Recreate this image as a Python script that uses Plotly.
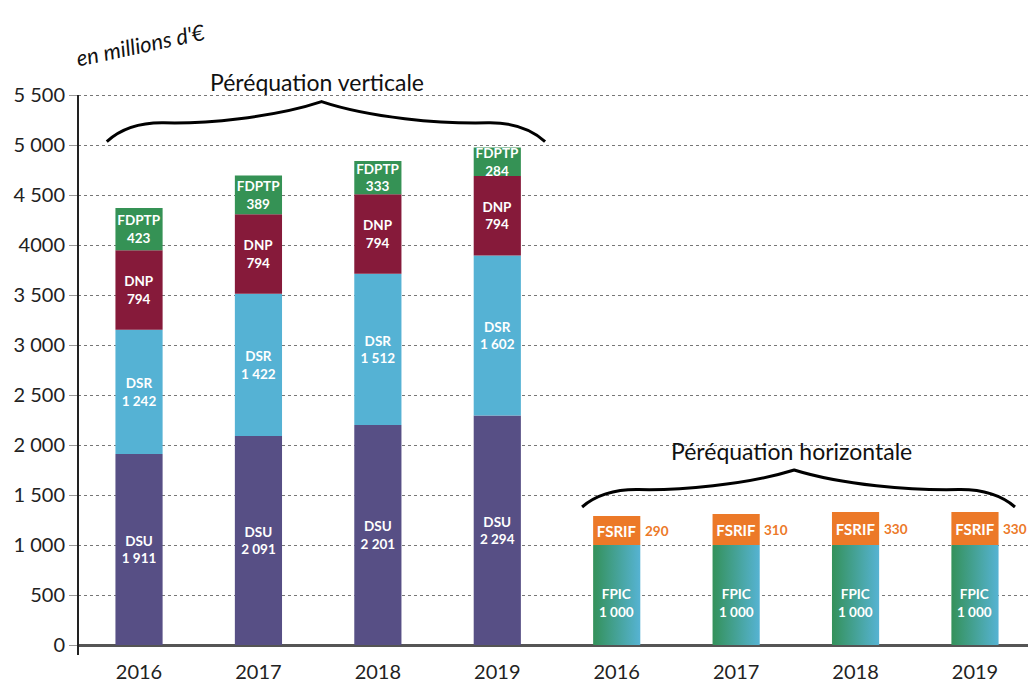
import plotly.graph_objects as go
import numpy as np

# ---------------- data ----------------
years = ["2016", "2017", "2018", "2019"]
dsu = [1911, 2091, 2201, 2294]
dsr = [1242, 1422, 1512, 1602]
dnp = [794, 794, 794, 794]
fdptp = [423, 389, 333, 284]
fpic = [1000, 1000, 1000, 1000]
fsrif = [290, 310, 330, 330]
y_tickvals = [0, 500, 1000, 1500, 2000, 2500, 3000, 3500, 4000, 4500, 5000, 5500]
y_ticktext = ["0", "500", "1 000", "1 500", "2 000", "2 500", "3 000", "3 500", "4000", "4 500", "5 000", "5 500"]

# ---------------- styles ----------------
C_DSU = "#574F85"
C_DSR = "#55B2D4"
C_DNP = "#861A3A"
C_FDPTP = "#359255"
C_FSRIF = "#EC7928"
C_FPIC_L = "#34915A"
C_FPIC_R = "#56B3D3"
FONT = "Lato"
BW = 0.395

def fmt(v):
    return f"{v:,}".replace(",", " ")

xv = np.arange(len(years))               # vertical group positions
xh = np.arange(len(years)) + len(years)  # horizontal group positions

fig = go.Figure()

segments = [("DSU", dsu, C_DSU), ("DSR", dsr, C_DSR), ("DNP", dnp, C_DNP), ("FDPTP", fdptp, C_FDPTP)]
base = np.zeros(len(years))
for name, vals, col in segments:
    vals = np.array(vals)
    fig.add_trace(go.Bar(
        x=xv, y=vals, base=base, width=BW, marker=dict(color=col, line=dict(width=0)),
        text=[f"<b>{name}</b><br><b>{fmt(int(v))}</b>" for v in vals],
        textposition="inside", insidetextanchor="middle", textangle=0,
        constraintext="none", textfont=dict(color="white", size=13.5, family=FONT),
        hoverinfo="skip", showlegend=False,
    ))
    base = base + vals

# FPIC gradient bars (filled shapes through axes)
for xi, v in zip(xh, fpic):
    fig.add_trace(go.Scatter(
        x=[xi - BW / 2, xi + BW / 2, xi + BW / 2, xi - BW / 2, xi - BW / 2],
        y=[0, 0, v, v, 0], mode="lines", line=dict(width=0), fill="toself",
        fillgradient=dict(type="horizontal", colorscale=[[0, C_FPIC_L], [1, C_FPIC_R]]),
        hoverinfo="skip", showlegend=False,
    ))
    fig.add_annotation(x=xi, y=v / 2 - 80, text=f"<b>FPIC</b><br><b>{fmt(v)}</b>", showarrow=False,
                       font=dict(color="white", size=13.5, family=FONT))

fig.add_trace(go.Bar(
    x=xh, y=fsrif, base=fpic, width=BW, marker=dict(color=C_FSRIF, line=dict(width=0)),
    text=["<b>FSRIF</b>"] * len(fsrif), textposition="inside", insidetextanchor="middle",
    textangle=0, constraintext="none", textfont=dict(color="white", size=15, family=FONT),
    hoverinfo="skip", showlegend=False,
))
for xi, b, v in zip(xh, fpic, fsrif):
    fig.add_annotation(x=xi + BW / 2 + 0.02, y=b + v / 2, text=f"<b>{v}</b>", showarrow=False,
                       xanchor="left", font=dict(color=C_FSRIF, size=13.5, family=FONT))

# ---------------- braces ----------------
def brace(x0, x1, yb, h):
    pts = [(0, 0), (0.03, 0.3), (0.07, 0.48), (0.13, 0.47), (0.22, 0.44), (0.38, 0.6), (0.49, 1.0),
           (0.6, 0.6), (0.76, 0.44), (0.87, 0.47), (0.93, 0.48), (0.97, 0.3), (1, 0)]
    P = [(x0 + t * (x1 - x0), yb + u * h) for t, u in pts]
    s = f"M {P[0][0]},{P[0][1]}"
    for i in range(1, len(P), 3):
        s += " C " + " ".join(f"{p[0]},{p[1]}" for p in P[i:i + 3])
    return s

tot_v = max(np.array(dsu) + np.array(dsr) + np.array(dnp) + np.array(fdptp))
tot_h = max(np.array(fpic) + np.array(fsrif))
fig.add_shape(type="path", xref="x", yref="y", path=brace(xv[0] - 0.27, xv[-1] + 0.40, tot_v + 60, 400),
              line=dict(color="black", width=3))
fig.add_shape(type="path", xref="x", yref="y", path=brace(xh[0] - 0.29, xh[-1] + 0.335, tot_h + 50, 370),
              line=dict(color="black", width=3))

fig.add_annotation(x=(xv[0] + xv[-1]) / 2 - 0.01, y=5630, text="Péréquation verticale", showarrow=False,
                   font=dict(size=23, color="#111", family=FONT))
fig.add_annotation(x=(xh[0] + xh[-1]) / 2 - 0.04, y=1940, text="Péréquation horizontale", showarrow=False,
                   font=dict(size=23, color="#111", family=FONT))
fig.add_annotation(x=0.02, y=6010, text="en millions d'€", showarrow=False, textangle=-12,
                   font=dict(size=22, color="#111", family=FONT, style="italic"))

# y-axis line
fig.add_shape(type="line", xref="paper", yref="y", x0=0, x1=0, y0=-100, y1=5500,
              line=dict(color="#222", width=2))

fig.update_layout(
    width=1028, height=685, margin=dict(l=78, r=0, t=10, b=27),
    plot_bgcolor="white", paper_bgcolor="white", barmode="overlay",
    font=dict(family=FONT, color="#222"),
    xaxis=dict(range=[-0.511, 7.444], tickvals=list(xv) + list(xh), ticktext=years + years,
               showgrid=False, zeroline=False, showline=False, ticks="",
               tickfont=dict(size=20, color="#222")),
    yaxis=dict(range=[-130, 6350], tickvals=y_tickvals, ticktext=y_ticktext,
               showgrid=True, gridcolor="#777", gridwidth=1, griddash="dot",
               zeroline=True, zerolinecolor="#555", zerolinewidth=2.5, showline=False,
               ticks="outside", ticklen=8, tickcolor="#999", tickwidth=1,
               tickfont=dict(size=20, color="#222")),
)

fig.write_html("out.html", config={"displayModeBar": False},
               post_script="document.body.style.margin='0px';")
